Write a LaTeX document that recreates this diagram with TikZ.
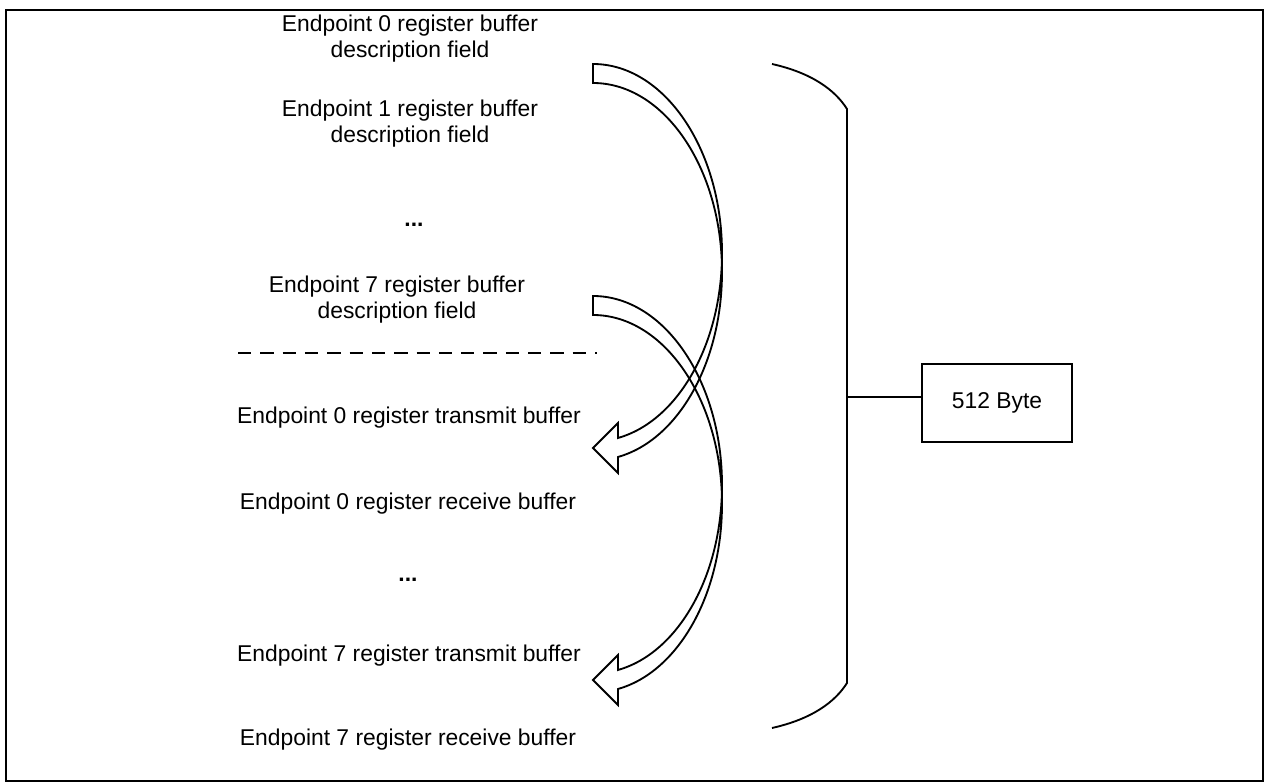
\documentclass[tikz,border=0pt]{standalone}
\usepackage{fontspec}
\setmainfont{Liberation Sans}
\usetikzlibrary{positioning}

\begin{document}
\begin{tikzpicture}[x=0.02cm, y=0.02cm,
  txt/.style={align=center, inner sep=0pt, font=\fontsize{13}{14.8}\selectfont},
  dots/.style={inner sep=0pt, font=\fontsize{13}{14.8}\selectfont\bfseries},
  line/.style={draw=black, line width=1.05pt},
  bytebox/.style={draw=black, line width=1.05pt, minimum width=3cm, minimum height=1.56cm, font=\fontsize{13}{14.8}\selectfont},
  bentarrow/.pic={
    \draw[line, line join=miter]
      (0,0) .. controls (71,0) and (129,-85) .. (129,-189)
      .. controls (129,-280) and (85,-357) .. (25,-374)
      -- (25,-359) -- (0,-384) -- (25,-409) -- (25,-393)
      .. controls (85,-376) and (129,-299) .. (129,-208)
      .. controls (129,-104) and (71,-19) .. (0,-19) -- cycle;
  }
]
\useasboundingbox (0,0) rectangle (1268,-783);
\draw[line width=1.4pt] (6,-10) rectangle (1263,-781);

\node[txt] (desc0) at (410,-39) {Endpoint 0 register buffer\\description field};
\node[txt] (desc1) at (410,-124) {Endpoint 1 register buffer\\description field};
\node[dots] (dotsA) at (414,-225) {...};
\node[txt] (desc7) at (397,-300) {Endpoint 7 register buffer\\description field};
\draw[line, dash pattern=on 7.6pt off 5.1pt] (238,-353) -- (597,-353);
\node[txt] (tx0) at (409,-418) {Endpoint 0 register transmit buffer};
\node[txt] (rx0) at (408,-504) {Endpoint 0 register receive buffer};
\node[dots] (dotsB) at (408,-580) {...};
\node[txt] (tx7) at (409,-656) {Endpoint 7 register transmit buffer};
\node[txt] (rx7) at (408,-740) {Endpoint 7 register receive buffer};

\pic at (593,-64) {bentarrow};
\pic at (593,-296) {bentarrow};

\draw[line] (772,-64) .. controls (812,-73) and (835,-90) .. (847,-109)
  -- (847,-683) .. controls (835,-702) and (812,-719) .. (772,-728);
\coordinate (bracemid) at (847,-397);
\node[bytebox] (mem) at (997,-403) {512 Byte};
\draw[line] (bracemid) -- (bracemid -| mem.west);
\end{tikzpicture}
\end{document}
